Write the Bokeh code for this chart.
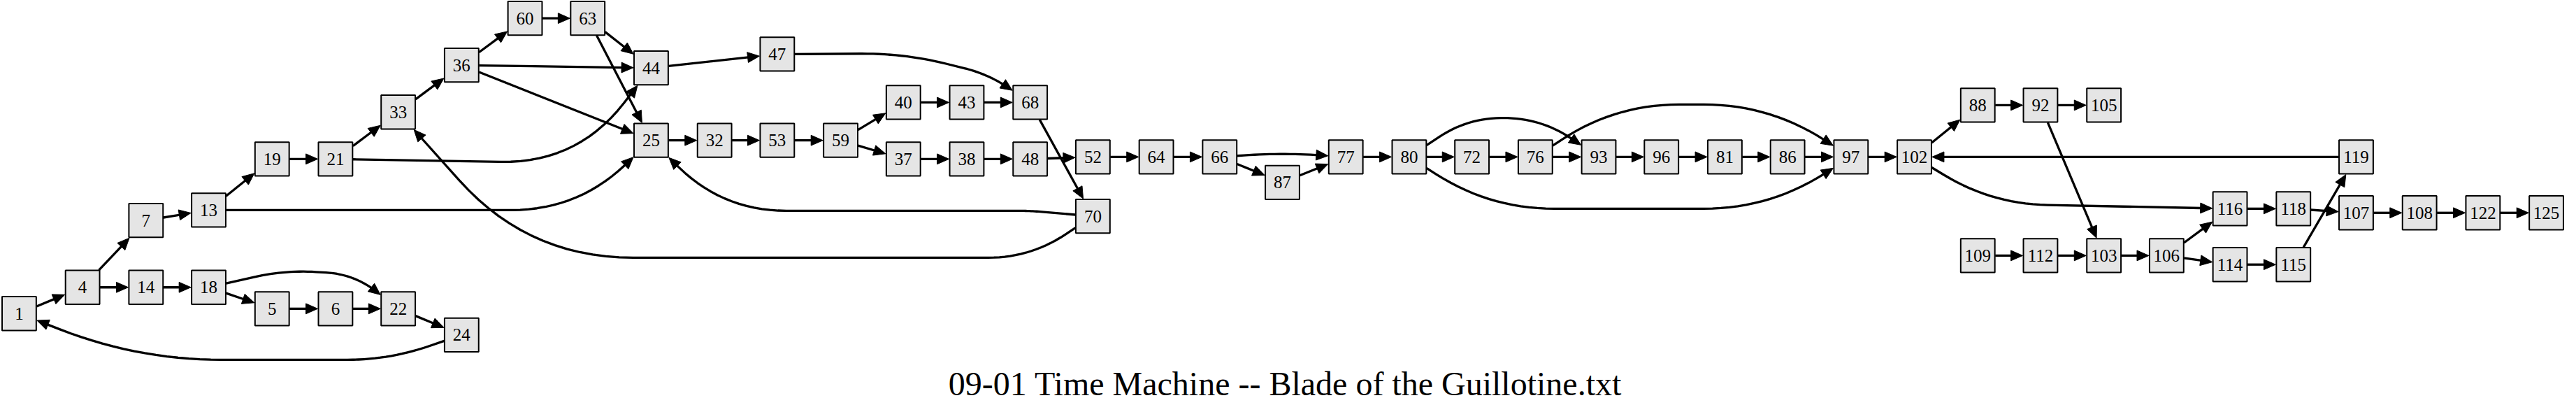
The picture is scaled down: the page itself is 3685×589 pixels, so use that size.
import numpy as np
from bokeh.core.properties import value
from bokeh.embed import file_html
from bokeh.models import Range1d
from bokeh.plotting import figure
from bokeh.resources import INLINE

# Data - scene graph of the gamebook (node id, placement) and its links
node_ids = ["1", "4", "7", "14", "13", "18", "19", "5", "21", "6", "33", "22", "36", "24",
            "60", "63", "44", "25", "47", "32", "53", "59", "40", "37", "43", "38", "68", "48",
            "52", "70", "64", "66", "87", "77", "80", "72", "76", "93", "96", "81", "86", "97",
            "102", "88", "92", "105", "119", "116", "118", "107", "108", "122", "125",
            "109", "112", "103", "106", "114", "115"]
node_x = [29, 120, 211, 211, 301, 301, 392, 392, 483, 483, 573, 573, 664, 664,
          755, 845, 936, 936, 1117, 1027, 1117, 1208, 1298, 1298, 1389, 1389, 1480, 1480,
          1570, 1570, 1661, 1752, 1842, 1933, 2024, 2114, 2205, 2296, 2386, 2477, 2567, 2658,
          2749, 2840, 2930, 3021, 3383, 3202, 3293, 3383, 3474, 3565, 3656,
          2840, 2930, 3021, 3111, 3202, 3293]
node_y = [457, 419, 322, 419, 307, 419, 233, 450, 233, 450, 165, 450, 97, 488,
          29, 29, 101, 206, 81, 206, 206, 206, 151, 233, 151, 233, 151, 233,
          230, 316, 230, 230, 267, 230, 230, 230, 230, 230, 230, 230, 230, 230,
          230, 155, 155, 155, 230, 305, 305, 311, 311, 311, 311,
          373, 373, 373, 373, 386, 386]

edge_src = ["1", "4", "4", "7", "13", "13", "14", "18", "18", "5", "6", "22", "24", "19",
            "21", "21", "33", "36", "36", "36", "60", "63", "63", "70", "70", "44", "47",
            "25", "32", "53", "59", "59", "40", "43", "37", "38", "48", "68", "52", "64",
            "66", "66", "87", "77", "80", "72", "76", "93", "96", "81", "86", "80", "76",
            "80", "97", "102", "88", "92", "92", "119", "102", "116", "118", "107", "108",
            "122", "109", "112", "103", "106", "106", "114", "115"]
edge_dst = ["4", "7", "14", "13", "19", "25", "18", "22", "5", "6", "22", "24", "1", "21",
            "33", "44", "36", "60", "44", "25", "63", "44", "25", "33", "25", "47", "68",
            "32", "53", "59", "40", "37", "43", "68", "38", "48", "52", "70", "64", "66",
            "77", "87", "77", "80", "72", "76", "93", "96", "81", "86", "97", "93", "97",
            "97", "102", "88", "92", "105", "103", "102", "116", "118", "107", "108", "122",
            "125", "112", "103", "106", "116", "114", "115", "119"]

title_text = "09-01 Time Machine -- Blade of the Guillotine.txt"

# Routing of the curved edges: bend points and corner radius of each bend
bends = {
    ("13", "25"): ([(830, 307)], [100]),
    ("21", "44"): ([(830, 239)], [110]),
    ("70", "33"): ([(1480, 376), (760, 376)], [60, 150]),
    ("70", "25"): ([(1480, 308), (1040, 308)], [20, 90]),
    ("47", "68"): ([(1300, 80), (1420, 110)], [80, 40]),
    ("18", "22"): ([(410, 394), (510, 400)], [45, 45]),
    ("24", "1"): ([(560, 524), (200, 524)], [60, 120]),
    ("80", "93"): ([(2110, 172), (2215, 175)], [60, 50]),
    ("76", "97"): ([(2320, 154), (2540, 154)], [100, 100]),
    ("80", "97"): ([(2140, 305), (2540, 305)], [110, 110]),
    ("102", "116"): ([(2860, 298)], [80]),
    ("66", "77"): ([(1842, 224)], [60]),
}

HALF = 24.5      # half box size
ARROW_LEN = 17
ARROW_HALF = 7.5

pos = {n: (x, y) for n, x, y in zip(node_ids, node_x, node_y)}


def box_hit(center, toward, pad=1.0):
    cx, cy = center
    dx, dy = toward[0] - cx, toward[1] - cy
    h = HALF + pad
    s = min(h / abs(dx) if dx else np.inf, h / abs(dy) if dy else np.inf)
    return (cx + s * dx, cy + s * dy)


def fillet(pts, radii):
    out = [pts[0]]
    for i in range(1, len(pts) - 1):
        a, b, c = np.array(pts[i - 1]), np.array(pts[i]), np.array(pts[i + 1])
        lab, lbc = np.linalg.norm(a - b), np.linalg.norm(c - b)
        fa = 0.5 if i > 1 else 0.85
        fc = 0.5 if i < len(pts) - 2 else 0.85
        r = min(radii[i - 1], lab * fa, lbc * fc)
        p_in = b + (a - b) / lab * r
        p_out = b + (c - b) / lbc * r
        for t in np.linspace(0, 1, 16):
            q = (1 - t) ** 2 * p_in + 2 * (1 - t) * t * b + t ** 2 * p_out
            out.append(tuple(q))
    out.append(pts[-1])
    return out


line_xs, line_ys, head_xs, head_ys = [], [], [], []
for s, d in zip(edge_src, edge_dst):
    via, radii = bends.get((s, d), ([], []))
    first = via[0] if via else pos[d]
    last = via[-1] if via else pos[s]
    start = box_hit(pos[s], first, pad=0.5)
    tip = box_hit(pos[d], last, pad=1.0)
    path = fillet([start] + list(via) + [tip], radii)
    tip = np.array(tip)
    prev = np.array(path[-2])
    u = (tip - prev) / np.linalg.norm(tip - prev)
    n = np.array([-u[1], u[0]])
    base = tip - ARROW_LEN * u
    path[-1] = tuple(base + 1.0 * u)
    line_xs.append([p[0] for p in path])
    line_ys.append([p[1] for p in path])
    c1, c2 = base + ARROW_HALF * n, base - ARROW_HALF * n
    head_xs.append([tip[0], c1[0], c2[0]])
    head_ys.append([tip[1], c1[1], c2[1]])

p = figure(
    width=3669,
    height=573,
    x_range=Range1d(2, 3683),
    y_range=Range1d(584, 3),
    output_backend="svg",
    toolbar_location=None,
    x_axis_location=None,
    y_axis_location=None,
    min_border=0,
)
p.grid.visible = False
p.outline_line_color = None
p.background_fill_color = "white"

p.rect(node_x, node_y, width=2 * HALF, height=2 * HALF,
       fill_color="#e5e5e5", line_color="black", line_width=2)
p.multi_line(line_xs, line_ys, line_color="black", line_width=3.3, line_join="round")
p.patches(head_xs, head_ys, fill_color="black", line_color="black", line_width=1)
p.text(node_x, node_y, text=node_ids, text_align="center", text_baseline="middle",
       text_font=value("Liberation Serif"), text_font_size="25px", text_color="black")
p.text([1846], [559], text=[title_text], text_align="center", text_baseline="middle",
       text_font=value("Liberation Serif"), text_font_size="48px", text_color="black")

open("out.html", "w").write(file_html(p, INLINE))
